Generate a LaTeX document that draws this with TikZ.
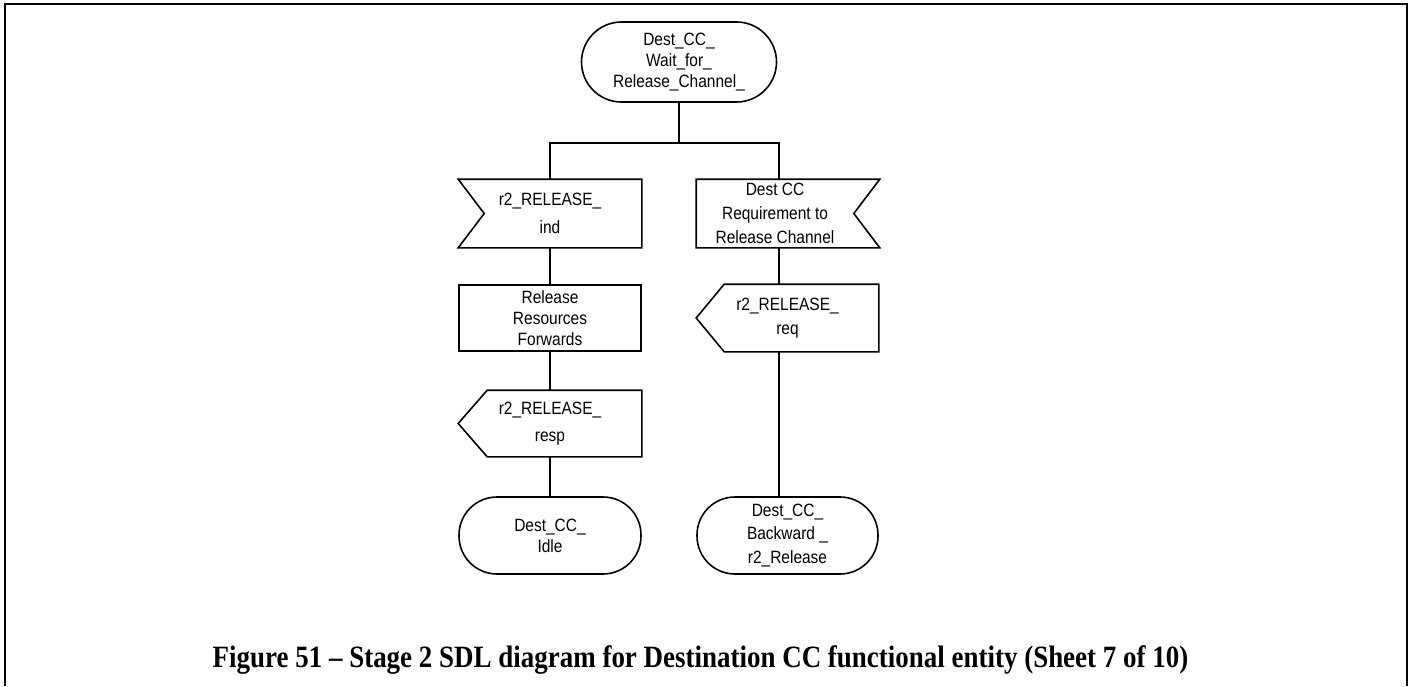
\documentclass[tikz,border=0pt]{standalone}
\usepackage{fontspec}
\setmainfont[FakeStretch=0.87]{Liberation Serif}
\setsansfont[FakeStretch=0.87]{Liberation Sans}
\usetikzlibrary{calc}

\tikzset{
  sdltext/.style={inner sep=0pt, align=center, font=\sffamily\fontsize{8.9}{10.5}\selectfont},
  statebox/.style={sdltext, draw, rounded corners=19pt},
  taskbox/.style={sdltext, draw},
  sigbox/.style={sdltext},
}

\begin{document}
\begin{tikzpicture}[x=0.5pt, y=-0.5pt, line width=0.8pt]
  \useasboundingbox (0,0) rectangle (1414,686);
  % rahmen
  \draw[line width=1pt] (5,686) -- (5,4) -- (1407,4) -- (1407,686);

  % startzustand
  \node[statebox, minimum width=97.5pt, minimum height=40pt, rounded corners=20pt] (top) at (679,62) {Dest\_CC\_\\Wait\_for\_\\Release\_Channel\_};

  % linker zweig
  \node[sigbox, minimum width=91pt, minimum height=33.5pt] (ind) at (550,213.5) {r2\_RELEASE\_\\[3.5pt]ind};
  \node[taskbox, minimum width=91pt, minimum height=33pt] (fwd) at (550,318) {Release\\Resources\\Forwards};
  \node[sigbox, minimum width=91pt, minimum height=32.5pt] (resp) at (550,423.5) {r2\_RELEASE\_\\[3pt]resp};
  \node[statebox, minimum width=91pt, minimum height=38.5pt] (idle) at (550,535.5) {Dest\_CC\_\\Idle};

  % rechter zweig
  \node[sigbox, minimum width=78pt, minimum height=33.5pt] (relch) at (775,213.5) {Dest CC\\[1.5pt]Requirement to\\[1.5pt]Release Channel};
  \node[sigbox, minimum width=90.5pt, minimum height=33pt] (req) at (787.5,318) {r2\_RELEASE\_\\[1.5pt]req};
  \node[statebox, minimum width=90.5pt, minimum height=38.5pt] (bwd) at (787.5,535.5) {Dest\_CC\_\\[1.25pt]Backward \_\\[1.25pt]r2\_Release};

  % eingaben
  \draw (ind.north west) -- (ind.north east) -- (ind.south east) -- (ind.south west) -- ($(ind.west)+(26,0)$) -- cycle;
  \draw (relch.north west) -- ($(relch.north east)+(26,0)$) -- (relch.east) -- ($(relch.south east)+(26,0)$) -- (relch.south west) -- cycle;
  % ausgaben
  \draw ($(resp.north west)+(29,0)$) -- (resp.north east) -- (resp.south east) -- ($(resp.south west)+(29,0)$) -- (resp.west) -- cycle;
  \draw ($(req.north west)+(28,0)$) -- (req.north east) -- (req.south east) -- ($(req.south west)+(28,0)$) -- (req.west) -- cycle;

  % verbindungen
  \coordinate (split) at (679,143);
  \coordinate (colR) at (779,0);
  \draw (top.south) -- (split);
  \draw (ind.north) |- (split) -| (colR |- relch.north);
  \draw (ind.south) -- (fwd.north);
  \draw (fwd.south) -- (resp.north);
  \draw (resp.south) -- (idle.north);
  \draw (colR |- relch.south) -- (colR |- req.north);
  \draw (colR |- req.south) -- (colR |- bwd.north);

  % unterschrift
  \node[font=\bfseries\fontsize{15.5}{18}\selectfont, anchor=base] (cap) at (700.5,667) {Figure 51 -- Stage 2 SDL diagram for Destination CC functional entity (Sheet 7 of 10)};
\end{tikzpicture}
\end{document}
